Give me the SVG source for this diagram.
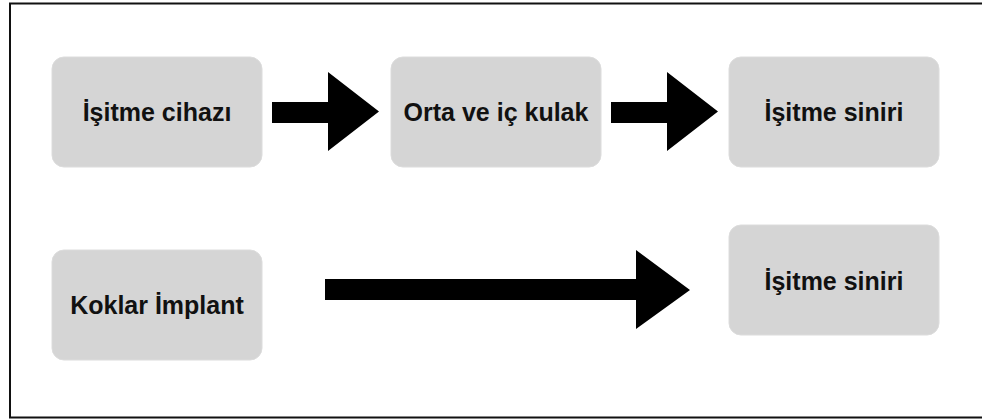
<svg xmlns="http://www.w3.org/2000/svg" width="982" height="420" viewBox="0 0 982 420">
  <style>
    .box { fill: #d5d5d5; stroke: #dcdcdc; stroke-width: 1; }
    .lbl { font-family: "Liberation Sans", Arial, sans-serif; font-weight: bold; font-size: 25px; fill: #111; text-anchor: middle; }
    .arrow { fill: #000; }
  </style>
  <rect x="0" y="0" width="982" height="420" fill="#fff"/>
  <path d="M 990 3.5 H 10 V 417.5 H 990" fill="none" stroke="#111" stroke-width="2"/>
  <g id="n1"><rect class="box" x="52" y="57" width="210" height="110" rx="12"/><text class="lbl" x="157" y="121">İşitme cihazı</text></g>
  <g id="n2"><rect class="box" x="391" y="57" width="210" height="110" rx="12"/><text class="lbl" x="496" y="121">Orta ve iç kulak</text></g>
  <g id="n3"><rect class="box" x="729" y="57" width="210" height="110" rx="12"/><text class="lbl" x="834" y="121">İşitme siniri</text></g>
  <g id="n4"><rect class="box" x="52" y="250" width="210" height="110" rx="12"/><text class="lbl" x="157" y="314">Koklar İmplant</text></g>
  <g id="n5"><rect class="box" x="729" y="225" width="210" height="110" rx="12"/><text class="lbl" x="834" y="290">İşitme siniri</text></g>
  <g id="connectors">
    <polygon class="arrow" points="272,102 328,102 328,72 379,111.5 328,151 328,123 272,123"/>
    <polygon class="arrow" points="611,102 667,102 667,72 718,111.5 667,151 667,123 611,123"/>
    <polygon class="arrow" points="325,279 636,279 636,250 690,290 636,329 636,300 325,300"/>
  </g>
</svg>
